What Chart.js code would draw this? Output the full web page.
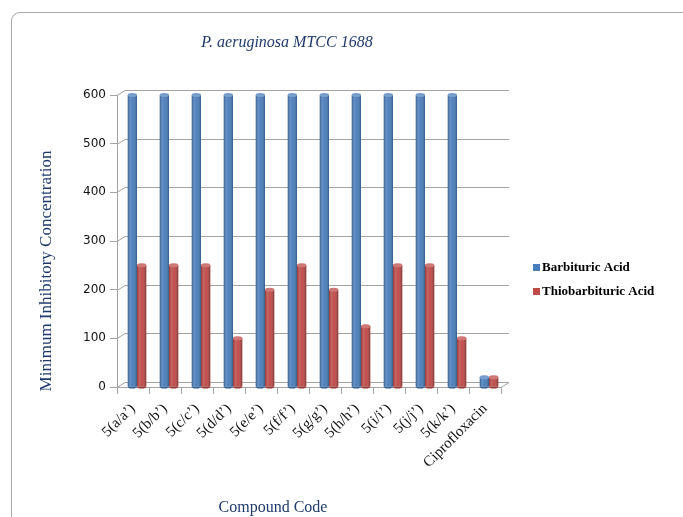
<!DOCTYPE html>
<html>
<head>
<meta charset="utf-8">
<script src="https://cdn.jsdelivr.net/npm/chart.js@4/dist/chart.umd.min.js"></script>
<style>
  html, body { margin: 0; padding: 0; background: #fff; overflow: hidden; }
  #frame {
    position: absolute; left: 11px; top: 12px; width: 720px; height: 540px;
    border: 1px solid #a6a6a6; border-radius: 9px; box-sizing: border-box;
  }
  #wrap { position: absolute; left: 0; top: 0; width: 683px; height: 517px; }
</style>
</head>
<body>
<div id="frame"></div>
<div id="wrap"><canvas id="c" width="683" height="517"></canvas></div>
<script>
// Compound codes along the x axis
const categories = ["5(a/a\u2019)", "5(b/b\u2019)", "5(c/c\u2019)", "5(d/d\u2019)", "5(e/e\u2019)", "5(f/f\u2019)",
                    "5(g/g\u2019)", "5(h/h\u2019)", "5(i/i\u2019)", "5(j/j\u2019)", "5(k/k\u2019)", "Ciprofloxacin"];
// Minimum inhibitory concentration per series
const barbituric     = [600, 600, 600, 600, 600, 600, 600, 600, 600, 600, 600, 20];
const thiobarbituric = [250, 250, 250, 100, 200, 250, 200, 125, 250, 250, 100, 20];
const seriesNames = ["Barbituric Acid", "Thiobarbituric Acid"];

const chartTitle = "P. aeruginosa MTCC 1688";
const yTitle = "Minimum Inhibitory Concentration";
const xTitle = "Compound Code";

const BLUE = "#4a7ebb", RED = "#be4b48";
const GRID = "#a3a3a3", NAVY = "#1f3a6b";
const DEPTH_X = 8, DEPTH_Y = 5;   // perspective of the back wall
const BAR_SHIFT = 4;              // bars sit half way into the depth

// Back wall grid lines and floor, drawn in perspective
const wallPlugin = {
  id: "wall",
  beforeDatasetsDraw(chart) {
    const { ctx, chartArea: a, scales: { y } } = chart;
    ctx.save();
    ctx.strokeStyle = GRID; ctx.lineWidth = 1;
    y.ticks.forEach(t => {
      const py = Math.round(y.getPixelForValue(t.value)) + 0.5;
      ctx.beginPath();
      ctx.moveTo(a.left, py);
      ctx.lineTo(a.left + DEPTH_X, py - DEPTH_Y);
      ctx.lineTo(a.right + DEPTH_X, py - DEPTH_Y);
      ctx.stroke();
    });
    const pb = Math.round(a.bottom) + 0.5;
    ctx.beginPath();
    ctx.moveTo(a.right, pb);
    ctx.lineTo(a.right + DEPTH_X, pb - DEPTH_Y);
    ctx.stroke();
    ctx.restore();
    ctx.save();
    ctx.translate(BAR_SHIFT, 0);
  },
  afterDatasetsDraw(chart) {
    const { ctx } = chart;
    // cylinder shading and round caps on every bar
    chart.data.datasets.forEach((ds, di) => {
      const meta = chart.getDatasetMeta(di);
      meta.data.forEach(bar => {
        const { x, y, base, width } = bar.getProps(["x", "y", "base", "width"], true);
        const l = x - width / 2, r = x + width / 2;
        const g = ctx.createLinearGradient(l, 0, r, 0);
        g.addColorStop(0, "rgba(0,0,0,0.22)");
        g.addColorStop(0.3, "rgba(255,255,255,0.14)");
        g.addColorStop(0.55, "rgba(255,255,255,0.02)");
        g.addColorStop(1, "rgba(0,0,0,0.30)");
        ctx.fillStyle = g;
        ctx.fillRect(l, y, width, base - y);
        // top cap
        ctx.beginPath();
        ctx.ellipse(x, y, width / 2, 2, 0, 0, Math.PI * 2);
        ctx.fillStyle = ds.backgroundColor;
        ctx.fill();
        ctx.fillStyle = "rgba(255,255,255,0.25)";
        ctx.fill();
        // bottom rounding
        ctx.beginPath();
        ctx.ellipse(x, base, width / 2, 2, 0, 0, Math.PI);
        ctx.fillStyle = ds.backgroundColor;
        ctx.fill();
        ctx.fillStyle = "rgba(0,0,0,0.2)";
        ctx.fill();
      });
    });
    ctx.restore();
  }
};

// Chart title, axis titles and legend
const textPlugin = {
  id: "texts",
  afterDraw(chart) {
    const { ctx } = chart;
    ctx.save();
    ctx.fillStyle = NAVY;
    ctx.textBaseline = "middle";
    ctx.textAlign = "center";
    ctx.font = "italic 16px 'Liberation Serif'";
    ctx.fillText(chartTitle, 287, 43);

    ctx.font = "16px 'Liberation Serif'";
    ctx.fillText(xTitle, 273, 508);

    ctx.save();
    ctx.translate(47, 271);
    ctx.rotate(-Math.PI / 2);
    ctx.font = "17px 'Liberation Serif'";
    ctx.fillText(yTitle, 0, 0);
    ctx.restore();

    // legend
    ctx.textAlign = "left";
    ctx.font = "bold 13px 'Liberation Serif'";
    chart.data.datasets.forEach((ds, i) => {
      const ly = 268 + i * 24;
      ctx.fillStyle = ds.backgroundColor;
      ctx.fillRect(533, ly - 4, 7, 7);
      ctx.fillStyle = "#000";
      ctx.fillText(ds.label, 542, ly);
    });
    ctx.restore();
  }
};

new Chart(document.getElementById("c"), {
  type: "bar",
  data: {
    labels: categories,
    datasets: [
      { label: seriesNames[0], data: barbituric, backgroundColor: BLUE },
      { label: seriesNames[1], data: thiobarbituric, backgroundColor: RED }
    ]
  },
  options: {
    responsive: false,
    animation: false,
    devicePixelRatio: 1,
    layout: { padding: { top: 95, right: 182, left: 0, bottom: 0 } },
    datasets: { bar: { categoryPercentage: 0.58, barPercentage: 1.0 } },
    plugins: { legend: { display: false }, title: { display: false }, tooltip: { enabled: false } },
    scales: {
      y: {
        min: 0, max: 600,
        ticks: { stepSize: 100, color: "#111", padding: 4, font: { family: "DejaVu Sans", size: 12 } },
        grid: { drawOnChartArea: false, drawTicks: true, tickLength: 7, color: GRID },
        border: { display: true, color: GRID },
        afterFit(s) { s.width = 117; }
      },
      x: {
        ticks: { minRotation: 45, maxRotation: 45, color: "#111", padding: 6,
                 font: { family: "Liberation Serif", size: 15 } },
        grid: { drawOnChartArea: false, drawTicks: true, tickLength: 7, color: GRID, offset: true },
        border: { display: true, color: GRID },
        afterFit(s) { s.height = 130; }
      }
    }
  },
  plugins: [wallPlugin, textPlugin]
});
</script>
</body>
</html>
